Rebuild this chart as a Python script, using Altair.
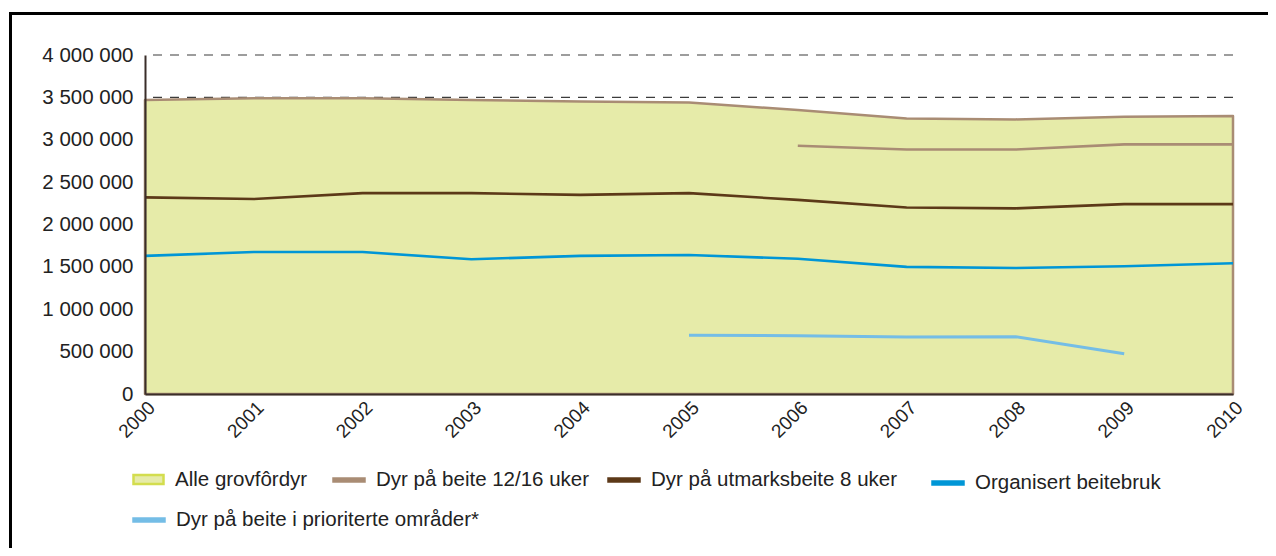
import altair as alt
import pandas as pd

# ---- data ----
years = [2000, 2001, 2002, 2003, 2004, 2005, 2006, 2007, 2008, 2009, 2010]
alle = [3470000, 3490000, 3490000, 3470000, 3450000, 3440000, 3350000, 3250000, 3240000, 3270000, 3280000]
beite_years = [2006, 2007, 2008, 2009, 2010]
beite = [2930000, 2885000, 2885000, 2945000, 2945000]
utmark = [2320000, 2300000, 2370000, 2370000, 2350000, 2370000, 2290000, 2200000, 2190000, 2240000, 2240000]
organisert = [1630000, 1675000, 1675000, 1590000, 1630000, 1640000, 1595000, 1500000, 1487000, 1507000, 1542000]
prior_years = [2005, 2006, 2007, 2008, 2009]
prior = [693000, 688000, 673000, 676000, 476000]

series_names = [
    "Alle grovfôrdyr",
    "Dyr på beite 12/16 uker",
    "Dyr på utmarksbeite 8 uker",
    "Organisert beitebruk",
    "Dyr på beite i prioriterte områder*",
]
series_colors = ["#E6EBA9", "#A98C74", "#5C3918", "#0096D6", "#74BDE6"]
y_ticks = [0, 500000, 1000000, 1500000, 2000000, 2500000, 3000000, 3500000, 4000000]

FONT = "Liberation Sans"

area_df = pd.DataFrame({"year": years, "value": alle, "serie": series_names[0]})
line_tables = [
    pd.DataFrame({"year": beite_years, "value": beite, "serie": series_names[1]}),
    pd.DataFrame({"year": years, "value": utmark, "serie": series_names[2]}),
    pd.DataFrame({"year": years, "value": organisert, "serie": series_names[3]}),
    pd.DataFrame({"year": prior_years, "value": prior, "serie": series_names[4]}),
]
grid_df = pd.DataFrame({"tick": y_ticks})

x_scale = alt.Scale(domain=[2000, 2010], nice=False, zero=False)
y_scale = alt.Scale(domain=[0, 4000000], nice=False)

x_axis = alt.Axis(
    values=years, format="d", labelAngle=-45, ticks=False, grid=False,
    domainColor="#3A2E2A", domainWidth=2, labelFont=FONT, labelFontSize=19,
    labelColor="#222222", labelPadding=4, title=None, zindex=2,
)
y_axis = alt.Axis(
    values=y_ticks, ticks=False, grid=False, domainColor="#3A2E2A", domainWidth=2,
    labelFont=FONT, labelFontSize=20.5, labelColor="#222222", labelPadding=12,
    title=None, zindex=2,
    labelExpr="replace(replace(format(datum.value, ','), ',', ' '), ',', ' ')",
)

common_legend = dict(
    title=None, orient="none", direction="horizontal",
    symbolSize=900, labelFont=FONT, labelFontSize=20.5, labelColor="#222222",
    labelOffset=10, labelLimit=500, padding=0,
)
line_symbol = "M-1,-0.07H1V0.07H-1Z"

# legend anchor offsets (pixels from the plot's top-left corner)
legend_pos = [(-13, 408), (187, 408), (462, 408), (786, 411), (-13, 448)]
line_widths = [2.6, 2.6, 2.6, 3.0]

frame_left = alt.Chart(grid_df).mark_rule(color="#000000", strokeWidth=3).encode(
    x=alt.value(-134.5), y=alt.value(-43), y2=alt.value(700)
).transform_filter("datum.tick == 0")
frame_top = alt.Chart(grid_df).mark_rule(color="#000000", strokeWidth=3).encode(
    x=alt.value(-136), x2=alt.value(1123), y=alt.value(-41.5)
).transform_filter("datum.tick == 0")

grid = alt.Chart(grid_df).mark_rule(
    color="#3C3C3C", strokeWidth=1.1, strokeDash=[9, 8]
).encode(y=alt.Y("tick:Q", scale=y_scale, axis=y_axis))

area = alt.Chart(area_df).mark_area(
    stroke="#A98C74", strokeWidth=2.5, strokeJoin="round", opacity=1
).encode(
    x=alt.X("year:Q", scale=x_scale, axis=x_axis),
    y=alt.Y("value:Q", scale=y_scale, axis=y_axis),
    color=alt.Color(
        "serie:N",
        scale=alt.Scale(domain=series_names[:1], range=series_colors[:1]),
        legend=alt.Legend(
            legendX=legend_pos[0][0], legendY=legend_pos[0][1],
            symbolType="M-1,-0.3H1V0.3H-1Z",
            symbolStrokeColor="#D3DD4E", symbolStrokeWidth=2.5, symbolFillColor="#E6EBA9",
            **common_legend,
        ),
    ),
)

layers = [frame_left, frame_top, grid, area]
for i, df in enumerate(line_tables):
    k = i + 1
    layers.append(
        alt.Chart(df).mark_line(strokeWidth=line_widths[i], strokeJoin="round").encode(
            x=alt.X("year:Q", scale=x_scale, axis=x_axis),
            y=alt.Y("value:Q", scale=y_scale, axis=y_axis),
            color=alt.Color(
                "serie:N",
                scale=alt.Scale(domain=[series_names[k]], range=[series_colors[k]]),
                legend=alt.Legend(
                    legendX=legend_pos[k][0], legendY=legend_pos[k][1],
                    symbolType=line_symbol, symbolStrokeWidth=3.5,
                    **common_legend,
                ),
            ),
        )
    )

chart = alt.layer(*layers).resolve_scale(color="independent").properties(
    width=1088, height=339,
    autosize=alt.AutoSizeParams(type="none"),
    padding={"left": 137, "top": 47, "right": 35, "bottom": 154},
).configure_view(stroke=None)

chart.save("out.html", embed_options={"renderer": "svg", "actions": False})
